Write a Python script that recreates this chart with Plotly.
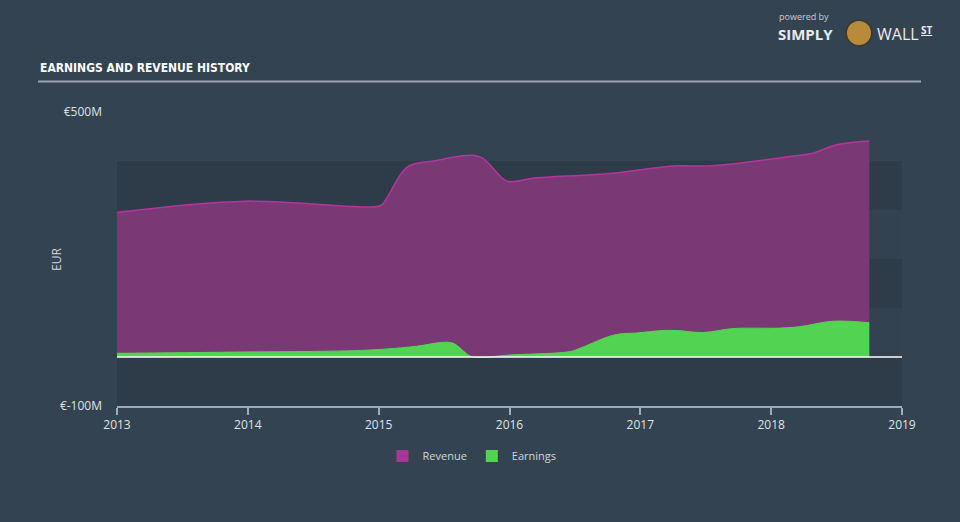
import plotly.graph_objects as go

# ---- data ----
rev_x = [2013.0, 2013.98, 2014.99, 2015.03, 2015.22, 2015.42, 2015.77, 2015.98, 2016.18,
         2016.79, 2017.25, 2017.53, 2018.17, 2018.32, 2018.50, 2018.75]
rev_y = [295, 318, 307, 312, 388, 400, 409, 359, 365, 375, 390, 390, 410, 416, 433, 441]

earn_x = [2013.0, 2013.89, 2014.91, 2015.29, 2015.49, 2015.57, 2015.70, 2015.77, 2016.0,
          2016.46, 2016.54, 2016.75, 2016.84, 2016.97, 2017.17, 2017.28, 2017.48, 2017.71,
          2018.07, 2018.22, 2018.47, 2018.75]
earn_y = [7.5, 10, 14, 22, 30, 28, 2, -1, 4, 11, 18, 41, 47, 49, 54, 54, 50, 58, 59, 62, 73, 70]

year_ticks = [2013, 2014, 2015, 2016, 2017, 2018, 2019]
y_ticks = [-100, 500]
y_tick_text = ["€-100M", "€500M"]
band_edges = [-100, 0, 100, 200, 300, 400]

BG = "#344352"
DARK_BAND = "#2e3c4a"
LIGHT_BAND = "#334251"
FONT = "Open Sans, Lato, sans-serif"
REV_FILL = "#7a3874"
REV_LINE = "#b4359f"
EARN = "#52d452"
LEG_REV = "#a8359a"

fig = go.Figure()

fig.add_trace(go.Scatter(
    x=rev_x, y=rev_y, name="Revenue", mode="lines", line_shape="spline",
    line=dict(color=REV_LINE, width=1.5), fill="tozeroy", fillcolor=REV_FILL,
    hoverinfo="skip", showlegend=False))
fig.add_trace(go.Scatter(
    x=earn_x, y=earn_y, name="Earnings", mode="lines", line_shape="spline",
    line=dict(color=EARN, width=1), fill="tozeroy", fillcolor=EARN,
    hoverinfo="skip", showlegend=False))
# legend-only entries with square swatches
for nm, col in [("Revenue", LEG_REV), ("Earnings", EARN)]:
    fig.add_trace(go.Scatter(x=[None], y=[None], name=nm, mode="markers",
                             marker=dict(symbol="square", size=14, color=col),
                             showlegend=True, hoverinfo="skip"))

shapes = []
for i in range(len(band_edges) - 1):
    shapes.append(dict(type="rect", xref="x domain", yref="y", x0=0, x1=1,
                       y0=band_edges[i], y1=band_edges[i + 1], layer="below",
                       line=dict(width=0),
                       fillcolor=DARK_BAND if i % 2 == 0 else LIGHT_BAND))
shapes.append(dict(type="line", xref="x domain", yref="y", x0=0, x1=1, y0=0, y1=0,
                   line=dict(color="#ffffff", width=1.5), layer="above"))


def px(x):
    return (x - 117) / 785


def py(y):
    return (406 - y) / 294


shapes.append(dict(type="line", xref="paper", yref="paper",
                   x0=px(38), x1=px(921), y0=py(81.5), y1=py(81.5),
                   line=dict(color="#9aa3ad", width=2)))
shapes.append(dict(type="circle", xref="paper", yref="paper",
                   x0=px(846), x1=px(872), y0=py(46), y1=py(20),
                   fillcolor="#b88a3a", line=dict(color="#3a3a3a", width=2)))

annotations = [
    dict(text="<b>EARNINGS AND REVENUE HISTORY</b>", x=px(38), y=py(68), xref="paper", yref="paper",
         xanchor="left", yanchor="middle", showarrow=False,
         font=dict(family="DejaVu Sans Condensed, Liberation Sans Narrow, sans-serif",
                   size=12, color="#ffffff")),
    dict(text="EUR", x=px(56), y=py(260), xref="paper", yref="paper", textangle=-90,
         xanchor="center", yanchor="middle",
         showarrow=False, font=dict(family=FONT, size=12, color="#d0d5da")),
    dict(text="powered by", x=px(777), y=py(17), xref="paper", yref="paper",
         xanchor="left", yanchor="middle", showarrow=False,
         font=dict(family=FONT, size=9, color="#c8cdd2")),
    dict(text="<b>SIMPLY</b>", x=px(776), y=py(34), xref="paper", yref="paper",
         xanchor="left", yanchor="middle", showarrow=False,
         font=dict(family=FONT, size=15, color="#e8ebee")),
    dict(text="WALL", x=px(875), y=py(34), xref="paper", yref="paper",
         xanchor="left", yanchor="middle", showarrow=False,
         font=dict(family=FONT, size=16, color="#e8ebee")),
    dict(text="<b><u>ST</u></b>", x=px(919), y=py(30), xref="paper", yref="paper",
         xanchor="left", yanchor="middle", showarrow=False,
         font=dict(family=FONT, size=10, color="#e8ebee")),
]

fig.update_layout(
    width=960, height=522,
    margin=dict(l=117, r=58, t=112, b=116),
    paper_bgcolor=BG, plot_bgcolor=BG,
    font=dict(family=FONT, color="#d0d5da", size=12),
    showlegend=True,
    legend=dict(orientation="h", x=px(472), xanchor="center", y=py(456), yanchor="middle",
                font=dict(family=FONT, size=11, color="#d0d5da"), bgcolor="rgba(0,0,0,0)",
                itemwidth=30, traceorder="normal", itemsizing="constant"),
    shapes=shapes,
    annotations=annotations,
    xaxis=dict(range=[2013, 2019], tickvals=year_ticks, ticktext=[str(t) for t in year_ticks],
               showgrid=False, zeroline=False, showline=True, linecolor="#a0aab4", linewidth=1.5,
               ticks="outside", ticklen=7, tickcolor="#a0aab4", tickwidth=1.5,
               tickfont=dict(family=FONT, size=12, color="#dfe3e7"), fixedrange=True),
    yaxis=dict(range=[-100, 500], tickvals=y_ticks, ticktext=y_tick_text,
               showgrid=False, zeroline=False, showline=False, ticks="",
               ticklabelstandoff=14,
               tickfont=dict(family=FONT, size=12, color="#dfe3e7"), fixedrange=True),
)

fig.write_html("out.html")
